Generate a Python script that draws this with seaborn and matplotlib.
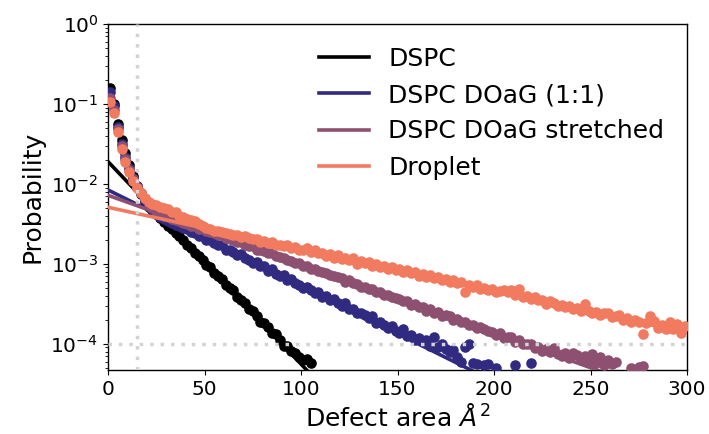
import numpy as np
import pandas as pd
import matplotlib
matplotlib.use("Agg")
import matplotlib.pyplot as plt
import seaborn as sns

# bin centres of the defect-area histograms (A^2)
x_bins = np.arange(1, 300, 2)

# probabilities per bin (nan = empty bin)
p_dspc = [
    1.58e-1, 1.0e-1, 5.6e-2, 3.5e-2, 2.4e-2, 1.7e-2, 1.26e-2, 9.5e-3, 7.4e-3, 6.0e-3,
    5.2e-3, 4.7e-3, 4.2e-3, 3.7e-3, 3.3e-3, 3.0e-3, 2.75e-3, 2.4e-3, 2.2e-3, 2.0e-3,
    1.74e-3, 1.58e-3, 1.38e-3, 1.26e-3, 1.12e-3, 9.8e-4, 9.1e-4, 7.6e-4, 7.1e-4, 6.5e-4,
    5.4e-4, 5.0e-4, 4.7e-4, 3.8e-4, 3.5e-4, 3.2e-4, 2.7e-4, 2.6e-4, 2.2e-4, 1.9e-4,
    1.8e-4, 1.6e-4, 1.38e-4, 1.32e-4, 1.12e-4, 9.5e-5, 9.5e-5, 8.1e-5, 7.6e-5, 6.9e-5,
    6.3e-5, 6.5e-5, 5.8e-5,
]
p_doag = [
    1.41e-1, 9.3e-2, 5.2e-2, 3.2e-2, 2.2e-2, 1.58e-2, 1.2e-2, 9.3e-3, 7.6e-3, 6.3e-3,
    5.4e-3, 4.7e-3, 4.2e-3, 3.8e-3, 3.6e-3, 3.4e-3, 3.2e-3, 3.1e-3, 2.95e-3, 2.8e-3,
    2.7e-3, 2.5e-3, 2.45e-3, 2.24e-3, 2.2e-3, 2.0e-3, 2.0e-3, 1.82e-3, 1.7e-3, 1.7e-3,
    1.51e-3, 1.51e-3, 1.41e-3, 1.29e-3, 1.32e-3, 1.17e-3, 1.12e-3, 1.02e-3, 1.05e-3, 9.3e-4,
    9.5e-4, 8.1e-4, 8.5e-4, 7.4e-4, 7.1e-4, 7.2e-4, 6.3e-4, 6.5e-4, 5.75e-4, 5.5e-4,
    5.0e-4, 5.2e-4, 4.7e-4, 4.3e-4, 4.5e-4, 3.9e-4, 4.0e-4, 3.5e-4, 3.6e-4, 3.2e-4,
    2.95e-4, 3.2e-4, 2.7e-4, 2.75e-4, 2.45e-4, 2.4e-4, 2.3e-4, 2.1e-4, 2.2e-4, 1.82e-4,
    1.9e-4, 1.7e-4, 1.58e-4, 1.66e-4, 1.45e-4, 1.38e-4, 1.51e-4, 1.26e-4, 1.29e-4, 1.12e-4,
    1.17e-4, 1.05e-4, 1.12e-4, 9.3e-5, 1.2e-4, 9.1e-5, 9.8e-5, 8.5e-5, 7.9e-5, 8.3e-5,
    6.8e-5, 6.0e-5, 9.1e-5, 1.0e-4, 5.8e-5, 5.6e-5, np.nan, 5.5e-5, 5.6e-5, np.nan,
    5.0e-5, np.nan, np.nan, np.nan, np.nan, 5.5e-5, np.nan, np.nan, np.nan, 5.8e-5,
]
p_stretched = [
    1.2e-1, 8.5e-2, 4.9e-2, 3.0e-2, 2.04e-2, 1.51e-2, 1.15e-2, 9.1e-3, 7.6e-3, 6.5e-3,
    5.6e-3, 5.0e-3, 4.6e-3, 4.3e-3, 4.0e-3, 3.8e-3, 3.6e-3, 3.55e-3, 3.4e-3, 3.2e-3,
    3.16e-3, 3.0e-3, 2.95e-3, 2.75e-3, 2.75e-3, 2.57e-3, 2.5e-3, 2.4e-3, 2.3e-3, 2.3e-3,
    2.1e-3, 2.04e-3, 2.0e-3, 1.86e-3, 1.86e-3, 1.74e-3, 1.66e-3, 1.66e-3, 1.51e-3, 1.51e-3,
    1.45e-3, 1.35e-3, 1.35e-3, 1.26e-3, 1.23e-3, 1.2e-3, 1.12e-3, 1.1e-3, 1.02e-3, 1.02e-3,
    9.5e-4, 9.3e-4, 8.7e-4, 8.7e-4, 8.1e-4, 7.9e-4, 7.6e-4, 7.2e-4, 7.1e-4, 6.8e-4,
    6.6e-4, 6.0e-4, 6.2e-4, 5.75e-4, 5.6e-4, 5.2e-4, 5.2e-4, 4.9e-4, 4.8e-4, 4.5e-4,
    4.5e-4, 4.1e-4, 4.1e-4, 3.9e-4, 3.7e-4, 3.6e-4, 3.4e-4, 3.4e-4, 3.1e-4, 3.16e-4,
    2.9e-4, 2.9e-4, 2.6e-4, 2.7e-4, 2.45e-4, 2.5e-4, 2.24e-4, 2.3e-4, 2.2e-4, 2.0e-4,
    2.04e-4, 1.86e-4, 1.9e-4, 1.7e-4, 1.74e-4, 1.58e-4, 1.62e-4, 1.51e-4, 1.45e-4, 1.41e-4,
    1.29e-4, 1.35e-4, 1.17e-4, 1.23e-4, 1.2e-4, 1.05e-4, 1.12e-4, 1.0e-4, 9.8e-5, 1.0e-4,
    8.9e-5, 9.1e-5, 8.1e-5, 8.7e-5, 7.9e-5, 8.9e-5, 7.4e-5, 7.1e-5, 7.6e-5, 6.6e-5,
    7.6e-5, 7.2e-5, 6.3e-5, 7.1e-5, 6.0e-5, 7.4e-5, 5.8e-5, 6.9e-5, 5.5e-5, 6.3e-5,
    5.6e-5, 6.0e-5, np.nan, np.nan, np.nan, 5.0e-5, np.nan, 5.1e-5, 5.2e-5, np.nan,
]
p_droplet = [
    1.05e-1, 7.6e-2, 4.4e-2, 2.7e-2, 1.9e-2, 1.41e-2, 1.1e-2, 8.9e-3, 7.6e-3, 6.6e-3,
    6.0e-3, 5.6e-3, 5.5e-3, 5.1e-3, 5.0e-3, 4.8e-3, 4.4e-3, 4.4e-3, 4.0e-3, 3.8e-3,
    3.6e-3, 3.5e-3, 3.4e-3, 3.16e-3, 3.0e-3, 2.8e-3, 2.75e-3, 2.57e-3, 2.57e-3, 2.5e-3,
    2.4e-3, 2.34e-3, 2.3e-3, 2.3e-3, 2.14e-3, 2.2e-3, 2.1e-3, 2.04e-3, 2.04e-3, 1.9e-3,
    1.95e-3, 1.82e-3, 1.86e-3, 1.74e-3, 1.74e-3, 1.66e-3, 1.7e-3, 1.58e-3, 1.62e-3, 1.51e-3,
    1.51e-3, 1.58e-3, 1.41e-3, 1.48e-3, 1.35e-3, 1.38e-3, 1.26e-3, 1.32e-3, 1.2e-3, 1.29e-3,
    1.15e-3, 1.2e-3, 1.12e-3, 1.17e-3, 1.0e-3, 1.1e-3, 1.02e-3, 1.05e-3, 9.5e-4, 1.0e-3,
    9.1e-4, 9.3e-4, 8.5e-4, 9.1e-4, 8.3e-4, 8.7e-4, 7.9e-4, 8.3e-4, 7.6e-4, 7.9e-4,
    7.1e-4, 7.4e-4, 6.9e-4, 7.2e-4, 6.6e-4, 6.8e-4, 6.3e-4, 6.5e-4, 5.9e-4, 6.2e-4,
    5.75e-4, 5.9e-4, 4.4e-4, 5.5e-4, 5.2e-4, 5.4e-4, 4.9e-4, 5.0e-4, 4.7e-4, 4.8e-4,
    4.4e-4, 4.6e-4, 4.7e-4, 4.4e-4, 4.7e-4, 4.1e-4, 4.9e-4, 3.8e-4, 4.0e-4, 3.6e-4,
    3.8e-4, 3.5e-4, 3.55e-4, 3.16e-4, 3.4e-4, 3.2e-4, 3.0e-4, 3.1e-4, 2.9e-4, 2.95e-4,
    2.75e-4, 2.8e-4, 2.6e-4, 3.16e-4, 2.6e-4, 2.4e-4, 2.5e-4, 2.3e-4, 2.4e-4, 2.4e-4,
    2.14e-4, 2.24e-4, 2.3e-4, 2.0e-4, 2.1e-4, 1.9e-4, 2.0e-4, 1.86e-4, 1.32e-4, 1.82e-4,
    2.2e-4, 1.95e-4, 1.58e-4, 1.7e-4, 1.51e-4, 1.9e-4, 1.55e-4, 1.78e-4, 1.38e-4, 1.66e-4,
]

# exponential fits, given by their end points (straight lines on the log axis)
x_fit = [0, 299]
fit_dspc = [1.9e-2, 5.1e-10]
fit_doag = [8.4e-3, 2.2e-6]
fit_stretched = [7.2e-3, 1.9e-5]
fit_droplet = [5.1e-3, 1.39e-4]

labels = ["DSPC", "DSPC DOaG (1:1)", "DSPC DOaG stretched", "Droplet"]
colors = ["#000000", "#302a80", "#8e5070", "#f27a5f"]
series = [p_dspc, p_doag, p_stretched, p_droplet]
fits = [fit_dspc, fit_doag, fit_stretched, fit_droplet]

fig, ax = plt.subplots(figsize=(7.09, 4.34), dpi=100)
fig.subplots_adjust(left=108/709, right=687/709, top=1-24/434, bottom=1-370/434)

for i, (lab, col, p, fit) in enumerate(zip(labels, colors, series, fits)):
    df = pd.DataFrame({"area": x_bins[:len(p)], "prob": p}).dropna()
    sns.scatterplot(data=df, x="area", y="prob", color=col, s=58,
                    edgecolor=col, linewidth=0, ax=ax, zorder=2 + 2*i)
    sns.lineplot(x=x_fit, y=fit, color=col, lw=2.6, label=lab, ax=ax, zorder=3 + 2*i)

ax.axvline(15, color="lightgrey", lw=2.5, ls=(0, (1, 2)), zorder=20)
ax.axhline(1e-4, color="lightgrey", lw=2.5, ls=(0, (1, 2)), zorder=20)

ax.set_yscale("log")
ax.set_xlim(0, 300)
ax.set_ylim(4.7e-5, 1)
ax.set_xticks([0, 50, 100, 150, 200, 250, 300])
ax.tick_params(labelsize=14.5)
ax.set_xlabel(r"Defect area $\AA^2$", fontsize=18)
ax.set_ylabel("Probability", fontsize=18)
for sp in ax.spines.values():
    sp.set_linewidth(1.0)

ax.legend(loc="upper right", frameon=False, fontsize=18)

fig.savefig("out.png", dpi=100)
